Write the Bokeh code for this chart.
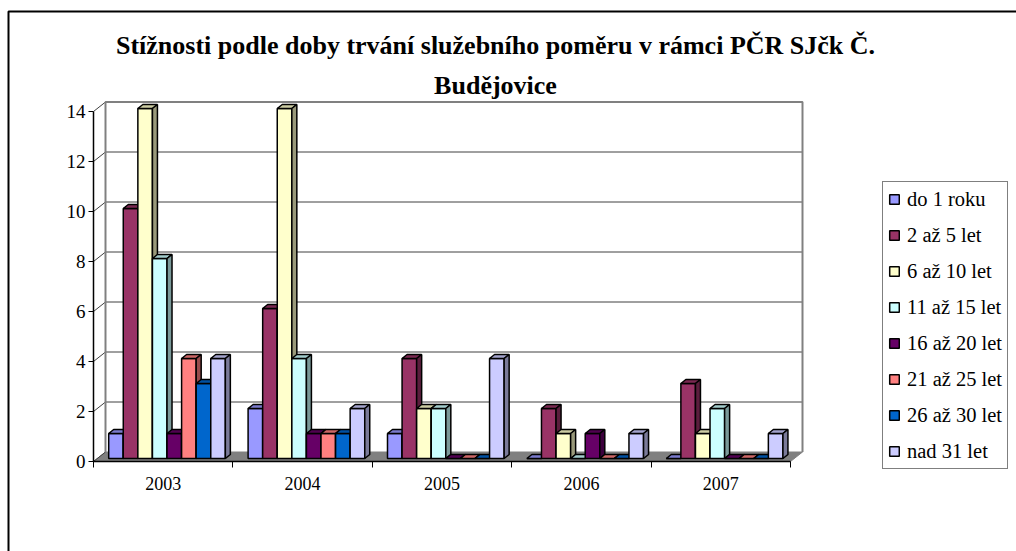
from bokeh.plotting import figure
from bokeh.models import Range1d, FixedTicker, Legend, LegendItem, LinearAxis
from bokeh.core.properties import value
from bokeh.embed import file_html
from bokeh.resources import INLINE

# ---------------- data ----------------
years = ["2003", "2004", "2005", "2006", "2007"]
series_names = ["do 1 roku", "2 až 5 let", "6 až 10 let", "11 až 15 let",
                "16 až 20 let", "21 až 25 let", "26 až 30 let", "nad 31 let"]
do_1_roku = [1, 2, 1, 0, 0]
let_2_5 = [10, 6, 4, 2, 3]
let_6_10 = [14, 14, 2, 1, 1]
let_11_15 = [8, 4, 2, 0, 2]
let_16_20 = [1, 1, 0, 1, 0]
let_21_25 = [4, 1, 0, 0, 0]
let_26_30 = [3, 1, 0, 0, 0]
nad_31 = [4, 2, 4, 1, 1]
series_values = [do_1_roku, let_2_5, let_6_10, let_11_15,
                 let_16_20, let_21_25, let_26_30, nad_31]
colors = ["#9999FF", "#993366", "#FFFFCC", "#CCFFFF",
          "#660066", "#FF8080", "#0066CC", "#CCCCFF"]
yticks = [0, 2, 4, 6, 8, 10, 12, 14]
title_line1 = "Stížnosti podle doby trvání služebního poměru v rámci PČR SJčk Č."
title_line2 = "Budějovice"

# ---------------- style / geometry ----------------
FONT = "'Liberation Serif'"
W_PX, H_PX = 1016, 551
X0_PX, Y0_PX = 93, 461     # pixel position of the data origin (front plane)
PX_X = 139.4               # pixels per category
PX_Y = 25.0                # pixels per unit
n = len(years)
ymax = max(yticks)
DX = 12 / PX_X             # wall depth
DY = 9.5 / PX_Y
G = 0.109                  # group start inside category
W = 0.1046                 # bar width
BDX = 5 / PX_X             # bar depth
BDY = 4 / PX_Y
YB = 0.12                  # bar base (front face)


def px_x(px):
    return (px - X0_PX) / PX_X


def px_y(py):
    return (Y0_PX - py) / PX_Y


def shade(hexcol, f):
    h = hexcol.lstrip("#")
    r, g, b = (int(h[i:i + 2], 16) for i in (0, 2, 4))
    return "#%02x%02x%02x" % (int(r * f), int(g * f), int(b * f))


p = figure(width=W_PX, height=H_PX, output_backend="svg", toolbar_location=None,
           x_range=Range1d(px_x(0), px_x(W_PX)), y_range=Range1d(px_y(H_PX), px_y(0)),
           x_axis_location=None, y_axis_location=None, title_location=None,
           min_border=0)
p.outline_line_color = None
p.background_fill_color = "white"
p.border_fill_color = "white"
p.xgrid.visible = False
p.ygrid.visible = False

# axes (drawn at the data origin)
yaxis = LinearAxis(fixed_location=0, bounds=(0, ymax), ticker=FixedTicker(ticks=yticks))
yaxis.axis_line_color = "black"
yaxis.axis_line_width = 1.5
yaxis.major_tick_out = 5
yaxis.major_tick_in = 0
yaxis.minor_tick_line_color = None
yaxis.major_tick_line_color = "black"
yaxis.major_label_text_font = FONT
yaxis.major_label_text_font_size = "19px"
yaxis.major_label_text_color = "black"
yaxis.major_label_standoff = 3
p.add_layout(yaxis, "left")

centers = [i + 0.5 for i in range(n)]
xaxis = LinearAxis(fixed_location=0, bounds=(0, n),
                   ticker=FixedTicker(ticks=centers, minor_ticks=list(range(n + 1))))
xaxis.major_label_overrides = {c: y for c, y in zip(centers, years)}
xaxis.axis_line_color = "black"
xaxis.axis_line_width = 1.5
xaxis.major_tick_line_color = None
xaxis.minor_tick_line_color = "black"
xaxis.minor_tick_out = 6
xaxis.minor_tick_in = 0
xaxis.major_label_text_font = FONT
xaxis.major_label_text_font_size = "18px"
xaxis.major_label_text_color = "black"
xaxis.major_label_standoff = 9
p.add_layout(xaxis, "below")

# outer chart border
p.line([px_x(8), px_x(8), px_x(W_PX + 20)], [px_y(H_PX + 20), px_y(11), px_y(11)],
       line_color="black", line_width=2)

# titles
p.text(x=[px_x(495), px_x(495)], y=[px_y(45), px_y(85)],
       text=[title_line1, title_line2], text_align="center", text_baseline="middle",
       text_font=value(FONT), text_font_style="bold", text_font_size="26px",
       text_color="black")

# floor
p.patch([0, n, n + DX, DX], [0, 0, DY, DY], fill_color="#808080",
        line_color="#808080", line_width=1)

# back wall grid
p.segment(x0=[DX] * (len(yticks) - 1), y0=[v + DY for v in yticks[1:]],
          x1=[n + DX] * (len(yticks) - 1), y1=[v + DY for v in yticks[1:]],
          line_color="#404040", line_width=1)
# side wall diagonals
p.segment(x0=[0] * len(yticks), y0=yticks, x1=[DX] * len(yticks),
          y1=[v + DY for v in yticks], line_color="#404040", line_width=1)
# back wall edges
p.line([DX, DX, n + DX, n + DX], [DY, ymax + DY, ymax + DY, DY],
       line_color="#808080", line_width=2)

# bars
items = []
for k, (name, vals, col) in enumerate(zip(series_names, series_values, colors)):
    lefts = [i + G + k * W for i in range(n)]
    rights = [l + W for l in lefts]
    tops = [YB + v for v in vals]
    r = p.quad(left=lefts, right=rights, bottom=[YB] * n, top=tops,
               fill_color=col, line_color="black", line_width=1.5)
    top_xs = [[l, rr, rr + BDX, l + BDX] for l, rr in zip(lefts, rights)]
    top_ys = [[t, t, t + BDY, t + BDY] for t in tops]
    p.patches(top_xs, top_ys, fill_color=shade(col, 0.8), line_color="black",
              line_width=1.5)
    side_xs = [[rr, rr + BDX, rr + BDX, rr] for rr in rights]
    side_ys = [[YB, YB + BDY, t + BDY, t] for t in tops]
    p.patches(side_xs, side_ys, fill_color=shade(col, 0.6), line_color="black",
              line_width=1.5)
    items.append(LegendItem(label=name, renderers=[r]))

legend = Legend(items=items, location=(882, H_PX - 469), label_text_font=FONT,
                label_text_font_size="20.5px", label_text_color="black",
                glyph_width=12, glyph_height=12, label_height=24, spacing=12,
                padding=5, label_standoff=7, border_line_color="black",
                border_line_width=1, background_fill_color="white", margin=0)
p.add_layout(legend)

open("out.html", "w").write(file_html(p, INLINE))
